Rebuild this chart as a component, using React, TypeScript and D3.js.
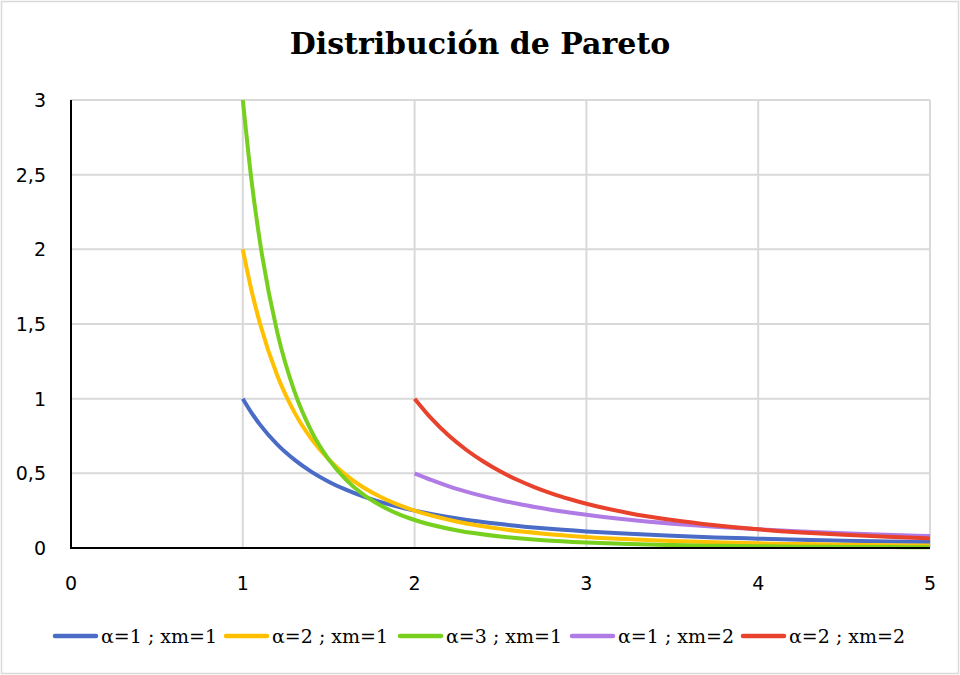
import React from "react";
import * as d3 from "d3";

const xTicks = [0, 1, 2, 3, 4, 5];
const yTicks = [0, 0.5, 1, 1.5, 2, 2.5, 3];
const yTickLabels = ["0", "0,5", "1", "1,5", "2", "2,5", "3"];

const xm1X = [1, 1.05, 1.1, 1.2, 1.3, 1.4, 1.5, 1.6, 1.7, 1.8, 1.9, 2, 2.25, 2.5, 2.75, 3, 3.25, 3.5, 3.75, 4, 4.25, 4.5, 4.75, 5];
const a1xm1 = [1, 0.907, 0.826, 0.694, 0.592, 0.51, 0.444, 0.391, 0.346, 0.309, 0.277, 0.25, 0.198, 0.16, 0.132, 0.111, 0.095, 0.082, 0.071, 0.0625, 0.055, 0.049, 0.044, 0.04];
const a2xm1 = [2, 1.728, 1.503, 1.157, 0.91, 0.729, 0.593, 0.488, 0.407, 0.343, 0.292, 0.25, 0.176, 0.128, 0.096, 0.074, 0.058, 0.047, 0.038, 0.031, 0.026, 0.022, 0.019, 0.016];
const a3xm1 = [3, 2.468, 2.049, 1.447, 1.05, 0.781, 0.593, 0.458, 0.359, 0.286, 0.23, 0.1875, 0.117, 0.077, 0.052, 0.037, 0.027, 0.02, 0.015, 0.0117, 0.0092, 0.0073, 0.0059, 0.0048];

const xm2X = [2, 2.1, 2.2, 2.3, 2.4, 2.5, 2.6, 2.7, 2.8, 2.9, 3, 3.25, 3.5, 3.75, 4, 4.25, 4.5, 4.75, 5];
const a1xm2 = [0.5, 0.454, 0.413, 0.378, 0.347, 0.32, 0.296, 0.274, 0.255, 0.238, 0.222, 0.189, 0.163, 0.142, 0.125, 0.111, 0.099, 0.089, 0.08];
const a2xm2 = [1, 0.864, 0.751, 0.658, 0.579, 0.512, 0.455, 0.406, 0.364, 0.328, 0.296, 0.233, 0.187, 0.152, 0.125, 0.104, 0.088, 0.075, 0.064];

const seriesNames = ["α=1 ; xm=1", "α=2 ; xm=1", "α=3 ; xm=1", "α=1 ; xm=2", "α=2 ; xm=2"];
const seriesColors = ["#4a6cc6", "#ffc000", "#77cf1e", "#b07be4", "#e8412c"];
const seriesX = [xm1X, xm1X, xm1X, xm2X, xm2X];
const seriesY = [a1xm1, a2xm1, a3xm1, a1xm2, a2xm2];

const legendStarts = [55, 226, 400, 572, 743];

export default function App() {
  const W = 960, H = 675;
  const left = 71, right = 930, top = 100, bottom = 548;
  const x = d3.scaleLinear().domain([0, 5]).range([left, right]);
  const y = d3.scaleLinear().domain([0, 3]).range([bottom, top]);
  const line = d3
    .line<[number, number]>()
    .x((d) => x(d[0]))
    .y((d) => y(d[1]))
    .curve(d3.curveMonotoneX);

  return (
    <div style={{ position: "absolute", left: 0, top: 0 }}>
      <svg width={W} height={H} style={{ display: "block", background: "#fff" }}>
        <rect x={1.5} y={1.5} width={W - 3} height={H - 3} fill="#fff" stroke="#d9d9d9" strokeWidth={1.5} />
        <text
          x={480}
          y={54}
          textAnchor="middle"
          fontFamily="DejaVu Serif"
          fontWeight="bold"
          fontSize={30}
          fill="#000"
        >
          Distribución de Pareto
        </text>
        {yTicks.slice(1).map((t) => (
          <line key={"hy" + t} x1={left} x2={right} y1={y(t)} y2={y(t)} stroke="#d9d9d9" strokeWidth={2} />
        ))}
        {xTicks.slice(1).map((t) => (
          <line key={"vx" + t} x1={x(t)} x2={x(t)} y1={top} y2={bottom} stroke="#d9d9d9" strokeWidth={2} />
        ))}
        {yTicks.map((t, i) => (
          <text
            key={"yl" + t}
            x={46}
            y={y(t)}
            dy="0.36em"
            textAnchor="end"
            fontFamily="DejaVu Sans"
            fontSize={19}
            fill="#000"
          >
            {yTickLabels[i]}
          </text>
        ))}
        {xTicks.map((t) => (
          <text
            key={"xl" + t}
            x={x(t)}
            y={583}
            dy="0.36em"
            textAnchor="middle"
            fontFamily="DejaVu Sans"
            fontSize={19}
            fill="#000"
          >
            {String(t)}
          </text>
        ))}
        {seriesNames.map((name, i) => {
          const pts = seriesX[i].map((xv, j) => [xv, seriesY[i][j]] as [number, number]);
          return (
            <path
              key={name}
              d={line(pts) || ""}
              fill="none"
              stroke={seriesColors[i]}
              strokeWidth={4}
              strokeLinejoin="round"
            />
          );
        })}
        <line x1={left} x2={left} y1={top} y2={bottom + 1} stroke="#000" strokeWidth={2} />
        <line x1={left} x2={right} y1={bottom} y2={bottom} stroke="#000" strokeWidth={2} />
        {seriesNames.map((name, i) => (
          <g key={"lg" + name} transform={`translate(${legendStarts[i]},636)`}>
            <line x1={0} x2={41} y1={0} y2={0} stroke={seriesColors[i]} strokeWidth={4.5} strokeLinecap="round" />
            <text x={46} y={0} dy="0.36em" fontFamily="DejaVu Serif" fontSize={19} fill="#000">
              {name}
            </text>
          </g>
        ))}
      </svg>
    </div>
  );
}
